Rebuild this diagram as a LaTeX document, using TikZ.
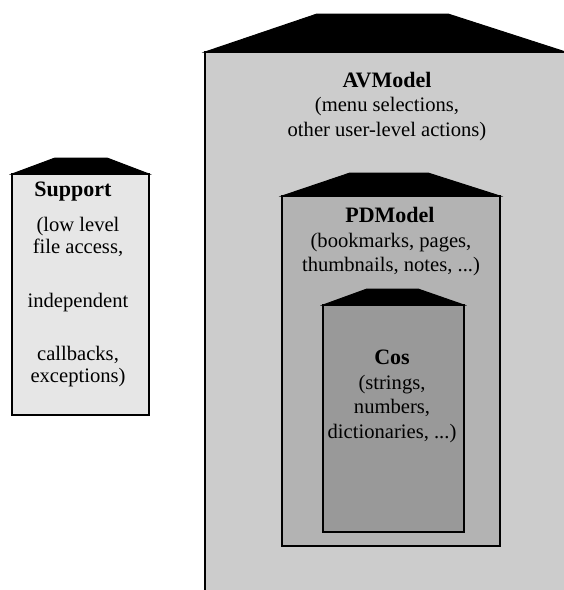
\documentclass[tikz,border=0pt]{standalone}
\usepackage{fontspec}
\setmainfont{Liberation Serif}
\begin{document}
\begin{tikzpicture}[x=1pt,y=-1pt,
  body/.style={draw=black,line width=2pt,rectangle,inner sep=0pt,outer sep=0pt,anchor=north west},
  roof/.style={fill=black,draw=black,line width=1pt,line join=miter},
  title/.style={font=\fontsize{22}{25}\selectfont\bfseries,inner sep=0pt},
  desc/.style={font=\fontsize{20.6}{24.5}\selectfont,align=center,inner sep=0pt}]
\useasboundingbox (0,0) rectangle (564,590);
\clip (0,0) rectangle (564,590);
\definecolor{avgray}{HTML}{CCCCCC}
\definecolor{pdgray}{HTML}{B3B3B3}
\definecolor{cosgray}{HTML}{999999}
\definecolor{supgray}{HTML}{E6E6E6}
% AVModel
\node[body,fill=avgray,minimum width=375pt,minimum height=560pt] (av) at (205,52) {};
\filldraw[roof] (av.north west) -- (317,14) -- (448,14) -- (575,55) -- (575,52) -- cycle;
\node[title] (avt) at (387,80) {AVModel};
\node[desc] (avd) at (387,119) {(menu selections,\\other user-level actions)};
% PDModel
\node[body,fill=pdgray,minimum width=218pt,minimum height=350pt] (pd) at (282,196) {};
\filldraw[roof] (pd.north west) -- (350,173) -- (428,173) -- (pd.north east) -- cycle;
\node[title] (pdt) at (390,215) {PDModel};
\node[desc] (pdd) at (391,254.5) {(bookmarks, pages,\\thumbnails, notes, ...)};
% Cos
\node[body,fill=cosgray,minimum width=141pt,minimum height=227pt] (cos) at (323,305) {};
\filldraw[roof] (cos.north west) -- (367,289) -- (418,289) -- (cos.north east) -- cycle;
\node[title] (cost) at (392,357) {Cos};
\node[desc] (cosd) at (392,409) {(strings,\\numbers,\\dictionaries, ...)};
% Support
\node[body,fill=supgray,minimum width=137pt,minimum height=241pt] (sup) at (12,174) {};
\filldraw[roof] (sup.north west) -- (55,158) -- (107,158) -- (sup.north east) -- cycle;
\node[title] (supt) at (73,192) {Support};
\node[desc,font=\fontsize{20.6}{22}\selectfont] (supd) at (78,302) {(low level\\file access,\\[32pt]independent\\[31pt]callbacks,\\exceptions)};
\end{tikzpicture}
\end{document}
